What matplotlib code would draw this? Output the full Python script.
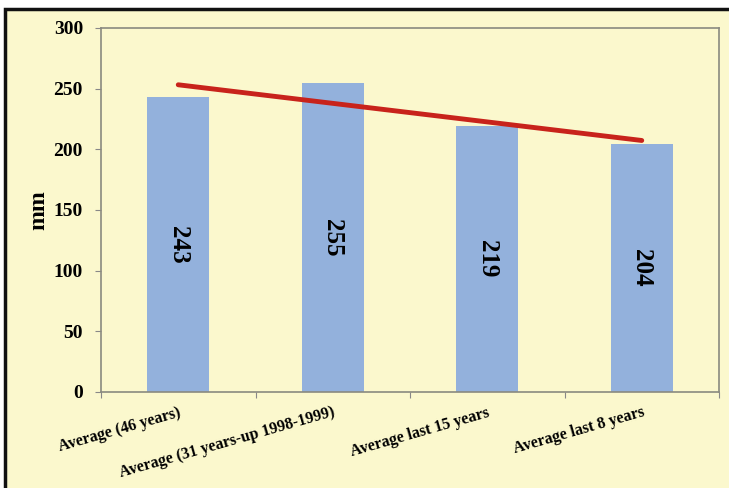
import numpy as np
import matplotlib.pyplot as plt
from matplotlib.patches import Rectangle

categories = ['Average (46 years)', 'Average (31 years-up 1998-1999)',
              'Average last 15 years', 'Average last 8 years']
rainfall = [243, 255, 219, 204]

bg = '#FBF8CD'
bar_color = '#93B1DC'
trend_color = '#C8231B'
serif = ['Liberation Serif', 'DejaVu Serif']


def main():
    fig = plt.figure(figsize=(7.29, 4.88), dpi=100)
    fig.patch.set_facecolor('white')
    # yellow panel with a black frame on the top and left
    fig.patches.append(Rectangle((5 / 729, -0.05), 1.0, 1.05 - 9 / 488, transform=fig.transFigure,
                                 facecolor=bg, edgecolor='#111111', linewidth=2.5,
                                 zorder=-1))

    ax = fig.add_axes([101 / 729, 96 / 488, 618 / 729, 364 / 488])
    ax.set_facecolor(bg)

    x = np.arange(len(rainfall)) + 0.5
    ax.bar(x, rainfall, width=0.4, color=bar_color, zorder=2)

    # linear trend through the four averages
    k, b = np.polyfit(x, rainfall, 1)
    ax.plot(x, k * x + b, color=trend_color, linewidth=3.5, solid_capstyle='round', zorder=3)

    for xi, v in zip(x, rainfall):
        ax.text(xi, v / 2, str(v), rotation=-90, ha='center', va='center',
                fontsize=18, fontweight='bold', family=serif, zorder=4)

    ax.set_xlim(0, len(rainfall))
    ax.set_ylim(0, 300)
    ax.set_yticks(np.arange(0, 301, 50))
    ax.set_xticks(np.arange(len(rainfall) + 1))
    ax.set_xticklabels([])
    ax.set_xticks(x, minor=True)
    ax.set_xticklabels(categories, minor=True, rotation=16, ha='right',
                       rotation_mode='anchor', fontsize=11.5, fontweight='bold',
                       family=serif)
    ax.tick_params(axis='x', which='minor', length=0, pad=9)
    ax.tick_params(axis='x', which='major', length=4, color='#888888')
    ax.tick_params(axis='y', length=4, color='#888888', pad=9)
    for lab in ax.get_yticklabels():
        lab.set_fontsize(14)
        lab.set_fontweight('bold')
        lab.set_family(serif)

    for side in ['left', 'bottom', 'top', 'right']:
        ax.spines[side].set_color('#8a8a80')
        ax.spines[side].set_linewidth(1.2)

    ax.set_ylabel('mm', fontsize=17, fontweight='bold', family=serif, labelpad=3)

    plt.savefig('out.png', dpi=100, facecolor=fig.get_facecolor())


if __name__ == '__main__':
    main()
